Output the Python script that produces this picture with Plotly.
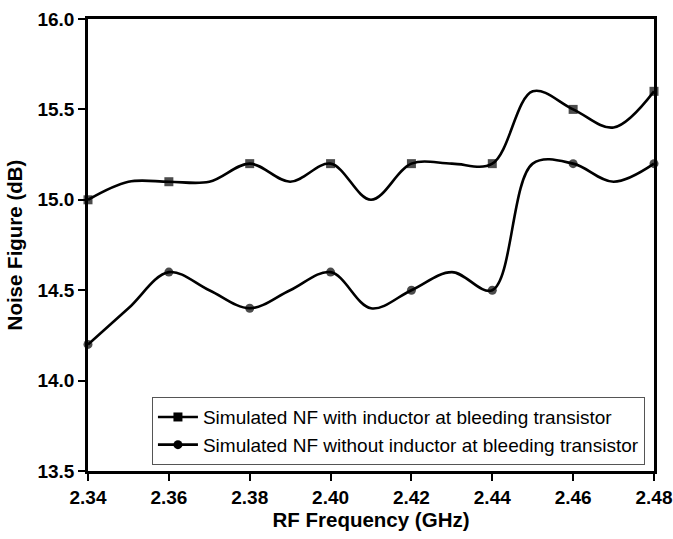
import plotly.graph_objects as go

# RF frequency sweep (GHz)
freq = [2.34, 2.35, 2.36, 2.37, 2.38, 2.39, 2.40, 2.41,
        2.42, 2.43, 2.44, 2.45, 2.46, 2.47, 2.48]
# Noise figure (dB) with inductor at the bleeding transistor
nf_with = [15.0, 15.1, 15.1, 15.1, 15.2, 15.1, 15.2, 15.0,
           15.2, 15.2, 15.2, 15.6, 15.5, 15.4, 15.6]
# Noise figure (dB) without inductor at the bleeding transistor
nf_without = [14.2, 14.4, 14.6, 14.5, 14.4, 14.5, 14.6, 14.4,
              14.5, 14.6, 14.5, 15.2, 15.2, 15.1, 15.2]

name_with = "Simulated NF with inductor at bleeding transistor"
name_without = "Simulated NF without inductor at bleeding transistor"

x_ticks = [2.34, 2.36, 2.38, 2.40, 2.42, 2.44, 2.46, 2.48]
y_ticks = [13.5, 14.0, 14.5, 15.0, 15.5, 16.0]

FONT = "Liberation Sans, Arial, sans-serif"
LW = 2.6
MS = 9

# markers only on every other sample
msize = [MS if i % 2 == 0 else 0 for i in range(len(freq))]

fig = go.Figure()
for ys, sym in ((nf_with, "square"), (nf_without, "circle")):
    fig.add_trace(go.Scatter(
        x=freq, y=ys, mode="lines+markers",
        line=dict(color="black", width=LW, shape="spline", smoothing=1.0),
        marker=dict(symbol=sym, size=msize, color="black", line=dict(width=0)),
        showlegend=False, cliponaxis=False,
    ))

# legend entries
for nm, sym in ((name_with, "square"), (name_without, "circle")):
    fig.add_trace(go.Scatter(
        x=[None], y=[None], mode="lines+markers", name=nm,
        line=dict(color="black", width=LW),
        marker=dict(symbol=sym, size=MS, color="black"),
    ))

fig.update_layout(
    width=673, height=539,
    margin=dict(l=88, r=19, t=19, b=68),
    paper_bgcolor="white", plot_bgcolor="white",
    font=dict(family=FONT, color="black"),
    legend=dict(
        x=0.984, y=0.013, xanchor="right", yanchor="bottom",
        bgcolor="white", bordercolor="#555", borderwidth=1,
        font=dict(family=FONT, size=19, color="black"),
        tracegroupgap=0, itemwidth=40,
    ),
)
fig.update_xaxes(
    range=[2.34, 2.48], tickvals=x_ticks, ticktext=[f"{v:.2f}" for v in x_ticks],
    showline=True, linecolor="black", linewidth=LW, mirror=True,
    ticks="outside", ticklen=7, tickwidth=2.2, tickcolor="black",
    showgrid=False, zeroline=False, automargin=False,
    tickfont=dict(family=FONT, size=19, color="black", weight="bold"),
    title=dict(text="<b>RF Frequency (GHz)</b>", font=dict(family=FONT, size=20.5), standoff=4),
)
fig.update_yaxes(
    range=[13.5, 16.0], tickvals=y_ticks, ticktext=[f"{v:.1f}" for v in y_ticks],
    showline=True, linecolor="black", linewidth=LW, mirror=True,
    ticks="outside", ticklen=7, tickwidth=2.2, tickcolor="black",
    showgrid=False, zeroline=False, automargin=False,
    tickfont=dict(family=FONT, size=19, color="black", weight="bold"),
    title=dict(text="<b>Noise Figure (dB)</b>", font=dict(family=FONT, size=20.5), standoff=10),
)

fig.write_html("out.html")
